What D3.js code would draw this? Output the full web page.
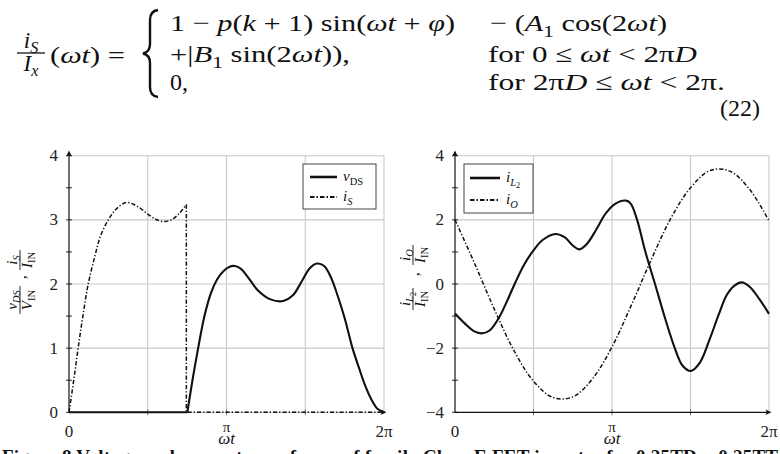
<!DOCTYPE html>
<html><head><meta charset="utf-8">
<script src="https://cdn.jsdelivr.net/npm/d3@7/dist/d3.min.js"></script>
<style>body{margin:0;background:#fff}svg{display:block}</style>
</head><body>
<svg id="c" width="780" height="454"></svg>
<script>
// ---------- data (phase as fraction of one period 0..1, i.e. ωt/2π) ----------
const phaseGrid = [0, 0.25, 0.5, 0.75, 1];
const phaseTickLabels = ["0", "", "π", "", "2π"];
const leftYTicks = [0, 1, 2, 3, 4];
const leftYMinor = [0.5, 1.5, 2.5, 3.5];
const rightYTicks = [-4, -2, 0, 2, 4];
const rightYMinor = [-3, -1, 1, 3];

// switch current i_S / I_IN while conducting (0 .. 2πD)
const iS_phase = [0, 0.015, 0.029, 0.044, 0.061, 0.083, 0.1, 0.125, 0.15, 0.183, 0.22, 0.25, 0.275, 0.298, 0.325, 0.35, 0.3725];
const iS_value = [0, 0.5, 1.0, 1.5, 2.0, 2.45, 2.75, 3.0, 3.17, 3.27, 3.2, 3.09, 3.01, 2.975, 3.0, 3.1, 3.24];
const switchOff = 0.3725;   // 2πD as fraction of the period

// switch voltage v_DS / V_IN while off (2πD .. 2π)
const vDS_phase = [0.3757, 0.392, 0.41, 0.43, 0.45, 0.47, 0.49, 0.51, 0.527, 0.545, 0.566, 0.6, 0.64, 0.68, 0.71, 0.74, 0.765, 0.788, 0.81, 0.83, 0.85, 0.875, 0.9, 0.92, 0.94, 0.96, 0.98, 1.0];
const vDS_value = [0, 0.5, 1.0, 1.5, 1.85, 2.07, 2.2, 2.27, 2.28, 2.24, 2.12, 1.9, 1.76, 1.735, 1.82, 2.05, 2.25, 2.32, 2.28, 2.12, 1.86, 1.47, 1.0, 0.7, 0.42, 0.2, 0.05, 0];

// inductor current i_L2 / I_IN
const iL2_phase = [0, 0.03, 0.06, 0.085, 0.11, 0.14, 0.165, 0.19, 0.22, 0.25, 0.28, 0.32, 0.35, 0.375, 0.396, 0.42, 0.45, 0.48, 0.51, 0.545, 0.56, 0.58, 0.605, 0.637, 0.67, 0.7, 0.725, 0.751, 0.78, 0.81, 0.84, 0.865, 0.89, 0.914, 0.94, 0.97, 1.0];
const iL2_value = [-0.92, -1.22, -1.47, -1.54, -1.45, -1.05, -0.55, 0.0, 0.6, 1.05, 1.38, 1.56, 1.45, 1.2, 1.08, 1.25, 1.7, 2.2, 2.5, 2.6, 2.5, 2.0, 1.05, 0.0, -1.1, -2.0, -2.55, -2.71, -2.45, -1.75, -0.95, -0.35, -0.05, 0.05, -0.1, -0.48, -0.93];

// output current i_O / I_IN
const iO_phase = [0, 0.0625, 0.125, 0.1875, 0.25, 0.3125, 0.375, 0.4375, 0.5, 0.5625, 0.625, 0.6875, 0.75, 0.8125, 0.875, 0.9375, 1.0];
const iO_value = [2.0, 0.64, -0.78, -2.07, -3.03, -3.54, -3.52, -2.96, -1.96, -0.64, 0.76, 2.05, 3.0, 3.54, 3.52, 2.96, 1.97];

const captionText = "Figure 8 Voltage and current waveforms of family Class-E FET inverter for 0.25TD = 0.25TT";

// ---------- helpers ----------
const SERIF = "'Liberation Serif','Times New Roman',serif";
const svg = d3.select("#c");
svg.append("rect").attr("width", 780).attr("height", 454).attr("fill", "#fff");

function addParts(t, parts, size) {
  let cur = 0;
  parts.forEach(p => {
    const lvl = p.s || 0;
    const shift = lvl === 0 ? 0 : (lvl === 1 ? size * 0.24 : size * 0.40);
    const fs = lvl === 0 ? size : (lvl === 1 ? size * 0.7 : size * 0.55);
    const ts = t.append("tspan").text(p.t).style("font-size", fs + "px").attr("dy", shift - cur);
    cur = shift;
    if (p.i) ts.style("font-style", "italic");
  });
  return t;
}
function mtext(parent, x, y, parts, size, anchor, len, adj) {
  const t = parent.append("text").attr("x", x).attr("y", y)
    .attr("font-family", SERIF).style("font-size", size + "px")
    .attr("text-anchor", anchor || "start").attr("fill", "#111")
    .attr("xml:space", "preserve").style("white-space", "pre");
  addParts(t, parts, size);
  if (len) t.attr("textLength", len).attr("lengthAdjust", adj || "spacingAndGlyphs");
  return t;
}
function frac(parent, cx, cy, num, den, size, barW) {
  mtext(parent, cx, cy - size * 0.22, num, size, "middle");
  parent.append("line").attr("x1", cx - barW / 2).attr("x2", cx + barW / 2)
    .attr("y1", cy).attr("y2", cy).attr("stroke", "#111").attr("stroke-width", Math.max(0.9, size * 0.055));
  mtext(parent, cx, cy + size * 0.78, den, size, "middle");
}

// ---------- equation ----------
const eq = svg.append("g");
const th = "\u2005";  // thick math space
frac(eq, 31, 53, [{t: "i", i: 1}, {t: "S", i: 1, s: 1}], [{t: "I", i: 1}, {t: "x", i: 1, s: 1}], 23, 28);
mtext(eq, 50, 63, [{t: "("}, {t: "ωt", i: 1}, {t: ")" + th + "=" }], 24, "start", 75);
eq.append("path")
  .attr("d", "M158,10 Q150,11 150,20 L150,44 Q150,52 143,53.5 Q150,55 150,63 L150,87 Q150,96 158,97")
  .attr("fill", "none").attr("stroke", "#111").attr("stroke-width", 2.4);
mtext(eq, 170, 31, [{t: "1" + th + "−" + th}, {t: "p", i: 1}, {t: "("}, {t: "k", i: 1}, {t: th + "+" + th + "1)" + th + "sin("}, {t: "ωt", i: 1}, {t: th + "+" + th}, {t: "φ", i: 1}, {t: ")"}], 24, "start", 285);
mtext(eq, 490, 31, [{t: "−" + th + "("}, {t: "A", i: 1}, {t: "1", s: 1}, {t: th + "cos(2"}, {t: "ωt", i: 1}, {t: ")"}], 24, "start", 177);
mtext(eq, 170, 62, [{t: "+|"}, {t: "B", i: 1}, {t: "1", s: 1}, {t: th + "sin(2"}, {t: "ωt", i: 1}, {t: ")),"}], 24, "start", 180);
mtext(eq, 488, 62, [{t: "for 0" + th + "≤" + th}, {t: "ωt", i: 1}, {t: th + "<" + th + "2π"}, {t: "D", i: 1}], 24, "start", 209);
mtext(eq, 170, 90, [{t: "0,"}], 24, "start");
mtext(eq, 488, 90, [{t: "for 2π"}, {t: "D", i: 1}, {t: th + "≤" + th}, {t: "ωt", i: 1}, {t: th + "<" + th + "2π."}], 24, "start", 237);
mtext(eq, 760, 116, [{t: "(22)"}], 24, "end");

// ---------- plots ----------
function arrowUp(g, x, y) {
  g.append("path").attr("d", `M${x},${y} L${x - 2.8},${y + 6} L${x},${y + 4.6} L${x + 2.8},${y + 6} Z`).attr("fill", "#111");
}
function arrowRight(g, x, y) {
  g.append("path").attr("d", `M${x},${y} L${x - 6},${y - 2.8} L${x - 4.6},${y} L${x - 6},${y + 2.8} Z`).attr("fill", "#111");
}

function drawPlot(opt) {
  const g = svg.append("g");
  const x = d3.scaleLinear().domain([0, 1]).range([opt.x0, opt.x1]);
  const y = d3.scaleLinear().domain(opt.yDomain).range([412.3, 155.7]);
  const grid = "#c9c9c9";
  phaseGrid.filter(d => d > 0).forEach(d => {
    g.append("line").attr("x1", x(d)).attr("x2", x(d)).attr("y1", y(opt.yDomain[0])).attr("y2", y(opt.yDomain[1]))
      .attr("stroke", grid).attr("stroke-width", 1.1);
  });
  opt.yTicks.forEach(d => {
    if (d === opt.yDomain[0] && opt.blackX) return;
    g.append("line").attr("x1", x(0)).attr("x2", x(1)).attr("y1", y(d)).attr("y2", y(d))
      .attr("stroke", grid).attr("stroke-width", 1.1);
  });
  phaseGrid.filter(d => d > 0 && d < 1).forEach(d => {
    g.append("line").attr("x1", x(d)).attr("x2", x(d)).attr("y1", y(opt.yDomain[0]) - 3).attr("y2", y(opt.yDomain[0]) + 3)
      .attr("stroke", "#666").attr("stroke-width", 0.9);
  });
  g.append("line").attr("x1", x(0)).attr("x2", x(0)).attr("y1", y(opt.yDomain[0])).attr("y2", 154)
    .attr("stroke", "#111").attr("stroke-width", 1.2);
  arrowUp(g, x(0), 150.5);
  opt.yTicks.concat(opt.yMinor).forEach(d => {
    g.append("line").attr("x1", x(0) - 3).attr("x2", x(0) + 3).attr("y1", y(d)).attr("y2", y(d))
      .attr("stroke", "#111").attr("stroke-width", 0.9);
  });
  if (opt.blackX) {
    g.append("line").attr("x1", x(0)).attr("x2", x(1) - 2).attr("y1", y(opt.yDomain[0])).attr("y2", y(opt.yDomain[0]))
      .attr("stroke", "#111").attr("stroke-width", 1.2);
  }
  arrowRight(g, x(1) + 2.5, y(opt.yDomain[0]));
  opt.yTicks.forEach(d => {
    g.append("text").attr("x", x(0) - 11).attr("y", y(d) + 5.5).attr("text-anchor", "end")
      .attr("font-family", SERIF).style("font-size", "17px").attr("fill", "#222")
      .text(d < 0 ? "−" + Math.abs(d) : String(d));
  });
  phaseGrid.forEach((d, i) => {
    if (!phaseTickLabels[i]) return;
    g.append("text").attr("x", x(d)).attr("y", d === 0.5 ? 432 : 437).attr("text-anchor", "middle")
      .attr("font-family", SERIF).style("font-size", d === 0.5 ? "15px" : "17px").attr("fill", "#222").text(phaseTickLabels[i]);
  });
  mtext(g, x(0.5), 444, [{t: "ωt", i: 1}], 17, "middle");

  const curve = d3.line().x(d => x(d[0])).y(d => y(d[1])).curve(d3.curveCatmullRom.alpha(0.5));
  const lin = d3.line().x(d => x(d[0])).y(d => y(d[1]));
  const DASH = "4.2,2,1.3,2";
  opt.series.forEach(s => {
    s.segs.forEach(seg => {
      g.append("path").attr("d", (seg.linear ? lin : curve)(seg.pts)).attr("fill", "none")
        .attr("stroke", "#111").attr("stroke-width", s.dash ? 1.5 : 2.1)
        .attr("stroke-dasharray", s.dash ? DASH : null).attr("stroke-linejoin", "round");
    });
  });

  const L = opt.legend;
  g.append("rect").attr("x", L.x).attr("y", L.y).attr("width", L.w).attr("height", L.h)
    .attr("fill", "#fff").attr("stroke", "#444").attr("stroke-width", 1);
  opt.series.forEach((s, i) => {
    const yy = L.y + L.r0 + i * L.dr;
    g.append("line").attr("x1", L.x + L.s0).attr("x2", L.x + L.s1).attr("y1", yy).attr("y2", yy)
      .attr("stroke", "#111").attr("stroke-width", s.dash ? 2 : 2.6).attr("stroke-dasharray", s.dash ? "4.5,2,1.5,2" : null);
    mtext(g, L.x + L.s1 + 6, yy + 4, s.label, 15, "start");
  });

  const yl = g.append("g").attr("transform", `translate(${opt.ylab.x},${opt.ylab.y}) rotate(-90)`);
  const f = opt.ylab.fr;
  frac(yl, -f.c1, 0, f.n1, f.d1, 15, f.w1);
  yl.append("text").attr("x", f.cm).attr("y", 6).attr("font-family", SERIF).style("font-size", "15px").text(",");
  frac(yl, f.c2, 0, f.n2, f.d2, 15, f.w2);
  return g;
}

const mk = (xs, ys) => xs.map((p, i) => [p, ys[i]]);

drawPlot({
  x0: 69, x1: 384, yDomain: [0, 4], yTicks: leftYTicks, yMinor: leftYMinor, blackX: false,
  series: [
    {label: [{t: "v", i: 1}, {t: "DS", s: 1}], dash: false,
     segs: [{linear: true, pts: [[0, 0], [vDS_phase[0], 0]]}, {pts: mk(vDS_phase, vDS_value)}]},
    {label: [{t: "i", i: 1}, {t: "S", i: 1, s: 1}], dash: true,
     segs: [{pts: mk(iS_phase, iS_value)}, {linear: true, pts: [[switchOff, iS_value[iS_value.length - 1]], [switchOff, 0], [1, 0]]}]}
  ],
  legend: {x: 303, y: 164, w: 73, h: 45, r0: 13, dr: 20, s0: 7, s1: 34},
  ylab: {x: 20, y: 282, fr: {c1: 18, n1: [{t: "v", i: 1}, {t: "DS", i: 1, s: 1}], d1: [{t: "V", i: 1}, {t: "IN", s: 1}], w1: 28,
    cm: 3, c2: 22, n2: [{t: "i", i: 1}, {t: "S", i: 1, s: 1}], d2: [{t: "I", i: 1}, {t: "IN", s: 1}], w2: 20}}
});

drawPlot({
  x0: 455, x1: 769, yDomain: [-4, 4], yTicks: rightYTicks, yMinor: rightYMinor, blackX: true,
  series: [
    {label: [{t: "i", i: 1}, {t: "L", i: 1, s: 1}, {t: "2", s: 2}], dash: false, segs: [{pts: mk(iL2_phase, iL2_value)}]},
    {label: [{t: "i", i: 1}, {t: "O", i: 1, s: 1}], dash: true, segs: [{pts: mk(iO_phase, iO_value)}]}
  ],
  legend: {x: 464, y: 164, w: 69, h: 49, r0: 14, dr: 22, s0: 6, s1: 36},
  ylab: {x: 413, y: 277, fr: {c1: 22, n1: [{t: "i", i: 1}, {t: "L", i: 1, s: 1}, {t: "2", s: 2}], d1: [{t: "I", i: 1}, {t: "IN", s: 1}], w1: 22,
    cm: 1, c2: 22, n2: [{t: "i", i: 1}, {t: "O", i: 1, s: 1}], d2: [{t: "I", i: 1}, {t: "IN", s: 1}], w2: 20}}
});

svg.append("text").attr("x", 2).attr("y", 463).attr("font-family", SERIF).style("font-size", "19px")
  .style("font-weight", "bold").attr("fill", "#111").attr("textLength", 776).attr("lengthAdjust", "spacing")
  .text(captionText);
</script>
</body></html>
